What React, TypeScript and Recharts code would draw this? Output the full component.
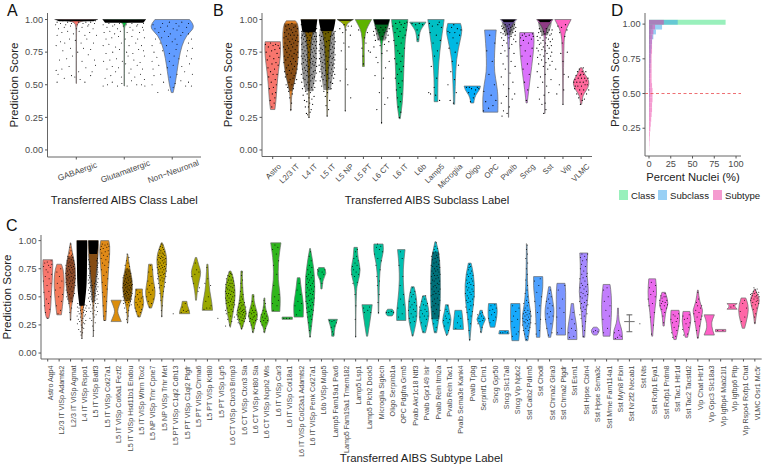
import { ScatterChart, Scatter, XAxis, YAxis, BarChart, Bar, ReferenceLine } from "recharts";

const FONT = '"Liberation Sans", Arial, sans-serif';
const GREY = "#4a4a4a";

// violin lists are flat pairs: score %, half width % of a category
// dot lists are flat pairs: offset % of a category, score %
// clouds are the solid black parts of a jitter, hazes the parts too dense to list dot by dot
const classNames = ["GABAergic", "Glutamatergic", "Non\u2212Neuronal"];
const classColors = ["#F8766D", "#00BA38", "#619CFF"];
const classViolins = [
  [51, 0.4, 90, 0.4, 97, 1, 99, 12, 100, 45],
  [49, 0.4, 90, 0.4, 97, 1, 99, 14, 100, 45],
  [44, 2, 50, 6, 60, 10, 70, 14, 80, 20, 88, 30, 93, 45, 97, 43, 100, 36],
];
const classClouds = [[98.6, 36, 100, 44], [97.6, 40, 100, 45], []];
const classHazes = [[], [], []];
const classDots = [
  [-40,52,-25,55,-10,57,-3,56,8,54,18,52,30,57,-38,58,-30,62,-42,61,-15,64,5,60,20,63,33,60,40,65,-35,69,-20,70,-8,72,12,68,25,73,38,69,-28,76,-12,78,3,75,15,78,30,77,-42,80,-33,83,-24,82,-14,85,-2,84,10,82,22,85,36,82,-40,88,-30,90,-18,91,-6,89,6,91,18,88,28,90,42,88,-37,93,-25,94,-12,95,0,93,12,94,24,95,35,93,-43,96,-33,97,-22,96,-10,97,2,96,14,97,26,96,38,97,-18,98,5,98,30,98,-40,98,-28,99,-12,99,8,99,20,98,40,99],
  [-44,49,-35,50,-25,52,-14,49,-5,51,6,49,15,53,26,50,36,50,43,49,-40,55,-28,57,-18,60,-6,56,10,59,22,56,34,58,42,54,-36,62,-25,64,-12,63,3,66,14,62,27,65,38,62,-43,68,-30,69,-16,70,-4,68,8,72,20,69,33,67,42,72,-38,74,-24,75,-10,77,5,75,18,74,30,77,40,76,-44,80,-32,81,-18,79,-6,82,10,80,24,82,36,80,-38,85,-26,86,-12,87,2,85,16,87,28,85,42,86,-42,90,-30,91,-20,89,-8,91,6,90,18,92,32,90,40,92,-36,94,-24,95,-14,93,-2,95,12,94,26,95,38,94,-44,96,-32,97,-20,96,-10,97,4,96,16,97,28,96,40,97],
  [-30,44,-8,46,2,48,28,49,40,49,-42,50,-18,52,6,51,18,53,34,52,-38,57,-24,58,-4,56,10,58,26,60,42,58,-40,62,-28,65,-10,63,2,65,20,64,36,66,-42,68,-32,71,-6,68,4,72,14,70,30,72,40,70,-38,75,-20,76,-6,74,8,77,32,76,42,78,-42,80,-25,82,-12,80,0,83,10,81,34,82,-35,85,-22,86,-8,87,6,85,18,88,40,85,-28,90,-16,91,-4,89,10,92,22,90,34,89,-36,93,-24,94,-10,95,2,93,14,95,30,94,-40,96,-20,97,-6,98,8,97,20,98,34,97],
];

const subclassNames = ["Astro", "L2/3 IT", "L4 IT", "L5 IT", "L5 NP", "L5 PT", "L6 CT", "L6 IT", "L6b", "Lamp5", "Microglia", "Oligo", "OPC", "Pvalb", "Sncg", "Sst", "Vip", "VLMC"];
const hueStops = ["#F8766D", "#E88526", "#D39200", "#B79F00", "#93AA00", "#5EB300", "#00BA38", "#00BF74", "#00C19F", "#00BFC4", "#00B9E3", "#00ADFA", "#619CFF", "#AE87FF", "#DB72FB", "#F564E3", "#FF61C3", "#FF699C"];
const subclassViolins = [
  [31, 12, 36, 17, 45, 22, 55, 27, 65, 36, 72, 42, 80, 44, 83, 42],
  [30, 1, 40, 3, 47, 10, 55, 25, 65, 38, 80, 44, 90, 45, 97, 38, 99, 25],
  [25, 1, 40, 2, 60, 5, 80, 10, 90, 20, 97, 40, 100, 45],
  [26, 1, 45, 3, 60, 8, 80, 14, 90, 24, 97, 40, 100, 45],
  [30, 0.4, 90, 0.4, 95, 2, 98, 20, 100, 45],
  [64, 5, 70, 5, 80, 4, 90, 10, 95, 25, 100, 45],
  [20, 0.4, 78, 0.6, 85, 8, 90, 20, 96, 38, 100, 45],
  [24, 3, 35, 15, 50, 20, 70, 25, 85, 30, 95, 42, 100, 45],
  [83, 5, 88, 8, 92, 15, 96, 35, 98, 45],
  [37, 10, 50, 10, 60, 12, 75, 20, 90, 35, 100, 45],
  [35, 3, 50, 6, 70, 12, 85, 35, 92, 45, 97, 35],
  [36, 8, 38, 10, 42, 18, 46, 40, 49, 45],
  [29, 41, 40, 43, 50, 35, 60, 22, 70, 22, 80, 25, 92, 32],
  [25, 0.6, 70, 1, 85, 5, 93, 10, 97, 25, 100, 45],
  [36, 3, 45, 10, 64, 28, 82, 42, 90, 38],
  [28, 0.6, 80, 1, 90, 5, 95, 18, 98, 35, 100, 45],
  [35, 0.6, 80, 4, 90, 10, 96, 30, 100, 45],
  [35, 3, 40, 7, 43, 15, 48, 40, 53, 45, 58, 20, 63, 5],
];
const subclassClouds = [[], [], [90, 36, 95, 42, 100, 45], [91, 34, 96, 42, 100, 45], [99, 30, 100, 45], [], [96, 36, 100, 44], [], [], [], [], [], [], [98, 26, 100, 40], [], [98, 26, 100, 42], [], []];
const subclassHazes = [[], [45, 8, 55, 25, 65, 36, 80, 40, 90, 40, 97, 36], [45, 20, 55, 36, 70, 43, 90, 44], [46, 20, 58, 34, 75, 42, 91, 42], [], [], [84, 22, 90, 32, 96, 40], [], [], [], [], [], [], [88, 18, 94, 34, 98, 38], [], [88, 16, 94, 34, 98, 38], [], []];
const subclassDots = [
  [-5,33,8,36,-14,38,12,40,-2,43,16,44,-18,47,4,48,20,50,-8,52,14,54,-22,56,2,58,24,58,-12,60,10,62,-26,63,30,65,-4,66,18,67,-30,69,6,70,34,71,-16,72,24,74,-36,75,-6,76,12,77,38,78,-24,79,2,80,30,80,-40,81,-12,82,16,81],
  [0,31,4,36,-6,40,8,43,-12,45,14,47,-18,48,6,50,-26,50,22,51,-10,52,32,54,-4,54,12,55,-30,56,18,57,-20,58,2,59,28,59,-34,60,-8,61,34,62,10,62,-24,63,20,64,-14,65,4,66,36,66,-38,67,-2,68,26,68,-28,69,14,70,-16,71,40,71,6,72,-36,72,30,73,-8,73,18,74,-22,75,38,75,0,76,-30,77,24,77,-12,78,10,79,-40,79,34,80,-20,80,2,81,16,82,-32,82,40,83,-6,83,26,84,-16,85,8,85,-38,86,32,86,-26,87,-2,88,18,88,38,88,-12,89,10,90,-34,90,28,91,-22,92,2,92,36,93,-8,93,16,94,-28,95,24,95,-14,96,6,97],
  [0,25,-8,27,6,29,-14,28,12,31,-3,33,-20,33,20,35,4,36,-12,37,-25,38,16,39,0,40,-32,42,28,41,-10,43,8,44,-18,45,22,46,-36,47,-4,47,14,48,32,48,-26,49,2,50,-14,50,26,51,-40,52,-6,52,38,53,10,53,-22,54,20,55,-32,55,-2,56,30,56,-12,57,6,57,-42,58,16,58,40,59,-28,59,24,60,-8,60,-18,61,34,61,2,62,-36,62,12,63,-24,63,42,64,-4,64,28,65,-14,65,18,66,-40,66,8,67,36,67,-30,67,-10,68,22,68,-20,69,2,69,40,70,-34,70,14,70,30,71,-6,71,-26,72,24,72,-42,72,-14,73,8,73,38,74,-32,74,18,75,-2,75,32,76,-22,76,-38,77,12,77,-10,78,26,78,42,78,-28,79,4,79,-16,80,36,80,20,81,-40,81,-6,81,-34,82,10,82,28,83,-20,83,42,83,-12,84,2,84,-30,85,22,85,36,85,-42,86,-8,86,14,86,-24,87,30,87,40,87,-36,88,-16,88,6,88,24,89,-28,89,-4,90,38,90,-40,91,16,91,-20,92,32,92,-10,93,42,93,-34,94,10,94,-26,95,26,95,-42,96,36,96,-14,97,4,97],
  [0,26,8,31,-6,34,14,38,-10,41,2,44,-18,45,22,47,8,48,-30,49,-12,50,30,51,18,52,-38,53,-4,53,-22,54,36,55,10,55,-32,56,26,57,-14,57,42,58,2,58,-26,59,16,59,-40,60,34,60,-8,61,24,62,-34,62,-18,63,40,63,6,63,-28,64,30,65,-44,65,14,65,-12,66,38,66,-24,67,22,67,-36,68,2,68,42,69,-16,69,28,70,-42,70,10,71,-30,71,36,71,-6,72,18,72,-20,73,44,73,-38,74,26,74,-12,75,34,75,-44,76,6,76,-26,77,20,77,40,78,-34,78,-8,79,30,79,-18,80,14,80,-42,81,38,81,-28,82,24,82,-4,83,44,83,-36,84,10,84,-20,85,32,85,-12,86,40,86,-30,87,18,87,-42,88,28,88,-8,89,36,89,-24,90,6,90,44,91,-38,92,22,92,-16,93,34,94,-30,95,12,95],
  [0,30,30,40,14,50,-28,53,6,62,-22,76,20,79,-8,82,28,88,-14,90,4,92,16,95,-30,93,-6,96,34,95],
  [28,76,38,75,-8,78,14,82,-26,92,22,90,6,86,-2,72,0,66],
  [0,21,-26,31,18,35,34,40,-12,44,10,55,-36,57,22,63,-20,67,42,68,-30,71,2,74,30,76,-42,79,-8,80,16,81,40,83,-34,84,-18,85,24,86,4,87,-40,88,36,88,-26,89,-10,90,14,90,30,91,-44,91,-16,92,8,92,42,93,-34,93,22,94,-4,94],
  [-2,25,6,29,-8,33,4,37,-12,40,10,43,-18,46,2,48,-6,51,14,53,-24,55,-12,58,8,60,-2,62,20,64,-16,66,6,68,-28,70,14,72,0,74,-10,76,26,78,-20,80,8,82,-32,84,18,86,-6,87,30,88,-26,90,2,91,36,92,-14,93,22,94,-38,95,8,96,-22,97,28,97,0,98,40,98],
  [-32,97,-12,96,8,97,26,96,-4,92,4,88,0,85],
  [-40,44,-30,43,-2,42,20,38,-10,48,4,55,-26,64,-8,72,8,76,-16,82,24,84,-32,90,2,88,30,94,-20,95,10,96,-36,97,18,98],
  [-4,36,-22,38,12,44,-34,50,2,54,-18,60,24,65,-10,68,6,75,-28,78,16,82,-6,86,30,88,-24,90,4,90,38,92,-34,91,18,93,-14,94,-2,96],
  [-10,37,6,40,-20,44,18,46,-32,48,-4,47,28,48,12,43,-16,48,36,47],
  [-38,30,-10,32,14,34,-26,37,30,38,4,42,-36,45,22,50,-8,58,10,68,-20,76,24,82,-4,88],
  [-36,26,-28,30,-8,28,4,33,-40,36,20,39,-12,41,34,43,2,47,-28,50,24,52,-40,56,8,59,-18,62,36,64,-30,66,14,68,-8,72,-42,74,30,74,-20,76,4,78,-34,80,18,81,-10,82,40,83,-26,84,28,85,2,86,-38,86,14,87,-18,88,36,88,-30,89,-6,89,24,90,-42,90,8,91,-22,91,38,91,-14,92,18,92,-34,93,30,93,0,93,-26,94,12,94,40,94,-38,95,-8,95,22,95,-18,96,32,96,4,96],
  [-2,38,6,46,-12,52,14,58,-20,62,4,66,-26,72,20,72,-8,76,30,78,-32,80,10,82,-18,84,26,85,-34,86,-4,87,36,87,-24,88,14,88,-12,89,32,89],
  [-6,28,6,31,2,36,-16,35,-30,39,-4,42,22,44,-38,48,10,49,-12,52,34,54,-24,56,2,58,-42,60,16,62,-8,64,28,65,-34,66,6,67,40,68,-18,69,20,70,-40,71,-6,72,32,72,-26,73,12,74,38,75,-36,76,2,76,-16,77,24,78,-44,78,-8,79,36,80,14,80,-30,81,-22,82,4,82,30,83,-38,84,-10,84,20,85,42,85,-26,86,8,86,-42,87,-16,88,28,88,0,89,36,89,-34,90,14,90,-22,91,-6,91,24,92,40,92,-30,93,8,93],
  [0,35,-34,43,4,46,-20,50,6,58,30,56,-40,62,0,68,-12,74,24,75,-4,82,10,87,-18,90,22,92,-8,94,-28,95,14,96],
  [-4,35,6,38,-14,40,18,39,-24,43,2,43,30,43,-36,47,-8,46,14,46,42,46,-32,49,-18,49,2,49,22,50,34,50,-40,52,-24,52,-6,52,12,52,28,53,-34,54,-16,55,2,55,20,55,38,55,-28,57,-6,57,14,58,-20,60,6,60,26,60,-10,62,12,63,-2,58],
];
const subtypeNames = ["Astro Aqp4", "L2/3 IT VISp Adamts2", "L2/3 IT VISp Agmat", "L4 IT VISp Rspo1", "L5 IT VISp Batf3", "L5 IT VISp Col27a1", "L5 IT VISp Col6a1 Fezf2", "L5 IT VISp Hsd11b1 Endou", "L5 IT VISp Whrn Tox2", "L5 NP VISp Trhr Cpne7", "L5 NP VISp Trhr Met", "L5 PT VISp C1ql2 Cdh13", "L5 PT VISp C1ql2 Ptgfr", "L5 PT VISp Chrna6", "L5 PT VISp Krt80", "L5 PT VISp Lgr5", "L6 CT VISp Ctxn3 Brinp3", "L6 CT VISp Ctxn3 Sla", "L6 CT VISp Krt80 Sla", "L6 CT VISp Nxph2 Wls", "L6 IT VISp Car3", "L6 IT VISp Col18a1", "L6 IT VISp Col23a1 Adamts2", "L6 IT VISp Penk Col27a1", "L6b VISp Mup5", "Lamp5 Fam19a1 Pax6", "Lamp5 Fam19a1 Tmem182", "Lamp5 Lsp1", "Lamp5 Plch2 Dock5", "Microglia Siglech", "Oligo Serpinb1a", "OPC Pdgfra Grm5", "Pvalb Akr1c18 Ntf3", "Pvalb Gpr149 Islr", "Pvalb Reln Itm2a", "Pvalb Reln Tac1", "Pvalb Sema3e Kank4", "Pvalb Tpbg", "Serpinf1 Clrn1", "Sncg Gpr50", "Sncg Slc17a8", "Sncg Vip Nptx2", "Sst Calb2 Pdlim5", "Sst Chodl", "Sst Chrna2 Glra3", "Sst Chrna2 Ptgdr", "Sst Esm1", "Sst Hpse Cbln4", "Sst Hpse Sema3c", "Sst Mme Fam114a1", "Sst Myh8 Fibin", "Sst Nr2f2 Necab1", "Sst Nts", "Sst Rxfp1 Eya1", "Sst Rxfp1 Prdm8", "Sst Tac1 Htr1d", "Sst Tac2 Tacstd2", "Vip Chat Htr1f", "Vip Gpc3 Slc18a3", "Vip Igfbp4 Mab21l1", "Vip Igfbp6 Pltp", "Vip Rspo4 Rxfp1 Chat", "VLMC Osr1 Mc5r"];
const subtypeViolins = [
  [31, 10, 36, 25, 50, 30, 65, 40, 78, 45, 83, 42],
  [34, 20, 42, 30, 55, 42, 65, 45, 75, 35, 79, 20],
  [29, 2, 40, 5, 47, 20, 60, 40, 75, 45, 85, 25, 93, 10, 98, 2],
  [13, 1, 30, 6, 50, 20, 70, 35, 90, 45, 100, 45],
  [15, 1, 40, 3, 55, 10, 70, 25, 85, 40, 95, 45, 100, 42],
  [29, 10, 50, 20, 70, 30, 85, 42, 95, 45, 100, 35],
  [28, 45, 33, 25, 37, 10, 42, 25, 47, 45],
  [27, 2, 38, 5, 48, 30, 55, 42, 65, 42, 75, 20, 88, 2],
  [32, 10, 38, 30, 45, 45, 52, 30, 57, 30],
  [40, 10, 47, 35, 55, 45, 65, 25, 75, 20, 79, 15],
  [32, 1, 45, 5, 60, 20, 75, 40, 85, 45, 93, 25, 98, 5],
  [],
  [35, 45, 38, 42, 42, 25, 46, 20],
  [47, 4, 55, 10, 65, 30, 72, 45, 78, 25, 85, 6],
  [38, 45, 45, 40, 55, 20, 65, 12, 79, 5],
  [],
  [23, 2, 35, 25, 50, 45, 60, 40, 70, 20, 73, 5],
  [21, 2, 30, 30, 36, 45, 45, 20, 60, 8, 73, 6],
  [18, 3, 25, 15, 33, 45, 40, 25, 47, 8, 52, 8],
  [18, 3, 23, 10, 29, 45, 36, 20, 42, 6, 49, 4],
  [37, 35, 45, 40, 55, 35, 65, 20, 80, 22, 90, 33, 98, 45],
  [30, 45, 32, 45],
  [32, 40, 43, 45, 55, 25, 67, 12],
  [14, 2, 33, 25, 55, 45, 75, 35, 93, 3],
  [57, 5, 65, 10, 71, 45, 76, 25],
  [15, 10, 20, 12, 25, 25, 30, 40],
  [],
  [14, 1, 55, 3, 63, 20, 74, 45, 84, 20, 94, 15],
  [15, 5, 31, 30, 43, 45],
  [35, 2, 63, 6, 81, 20, 90, 45, 97, 40],
  [33, 20, 36, 45, 39, 20],
  [29, 40, 37, 42, 55, 20, 75, 15, 92, 33],
  [15, 3, 28, 35, 40, 40, 52, 30, 59, 12],
  [18, 12, 31, 45, 40, 40, 51, 12],
  [18, 10, 34, 40, 63, 45, 87, 35, 99, 5],
  [16, 5, 28, 45, 37, 20, 43, 12],
  [21, 45, 28, 42, 38, 30],
  [11, 2, 34, 20, 52, 45, 70, 35, 80, 12],
  [18, 3, 25, 10, 30, 45, 34, 15, 38, 10],
  [23, 20, 34, 45, 44, 35],
  [17, 45, 20, 40],
  [11, 30, 28, 45, 44, 40],
  [11, 10, 31, 45, 43, 20, 63, 5, 96, 3],
  [14, 15, 37, 22, 49, 30, 59, 42, 68, 40],
  [14, 10, 34, 45, 46, 30, 59, 8],
  [16, 40, 40, 40, 55, 42, 62, 35],
  [12, 40, 22, 42, 34, 20, 44, 10],
  [14, 8, 37, 20, 55, 45, 70, 25, 89, 35],
  [16, 15, 20, 45, 23, 15],
  [15, 30, 34, 45, 52, 42, 61, 30],
  [12, 40, 20, 40, 28, 6, 40, 4],
  [19, 25, 19, 0, 28, 0, 28, 45, 28, 0, 34, 0, 34, 25],
  [],
  [15, 4, 37, 20, 53, 42, 66, 30],
  [24, 5, 37, 15, 44, 45, 54, 15],
  [12, 10, 28, 45, 38, 35],
  [14, 10, 28, 45, 37, 30],
  [13, 3, 34, 35, 38, 45, 46, 15, 56, 3],
  [16, 45, 25, 10, 34, 45],
  [19, 45, 21, 45],
  [39, 45, 42, 15, 44, 45],
  [22, 10, 34, 42, 43, 42, 49, 20],
  [26, 3, 37, 15, 47, 45, 53, 20, 57, 3],
];
const subtypeClouds: number[][] = subtypeNames.map(() => []);
subtypeClouds[3] = [42, 22, 55, 38, 70, 44, 100, 45];
subtypeClouds[4] = [88, 36, 94, 42, 100, 44];
const subtypeHazes: number[][] = subtypeNames.map(() => []);
subtypeHazes[2] = [45, 15, 60, 38, 75, 42, 86, 24];
subtypeHazes[4] = [45, 14, 60, 30, 75, 40, 88, 42];
subtypeHazes[7] = [46, 26, 55, 40, 65, 40, 75, 18];
subtypeHazes[34] = [30, 34, 50, 38, 70, 40, 90, 30];
const subtypeDots = [
  [0,31,-20,36,18,39,-30,42,6,44,-12,48,24,50,-34,54,10,55,-6,60,28,62,-38,64,12,66,-22,68,34,70,2,72,-14,74,22,76,-36,77,8,78,36,79,-26,80,-4,81,30,82],
  [-10,35,12,38,-24,42,20,46,-4,50,30,52,-32,56,8,58,-16,62,24,64,2,68,-20,72,14,75],
  [0,30,-6,36,10,40,-14,44,18,46,-24,48,4,49,-34,50,26,51,-10,52,36,53,-28,54,14,55,-38,56,-4,57,30,58,-18,59,8,59,40,60,-32,61,20,62,-8,62,-40,63,34,63,2,64,-24,65,16,65,-36,66,42,66,-12,67,26,67,6,68,-30,69,38,69,-18,70,12,71,-42,71,30,72,0,72,-26,73,20,74,-8,74,36,75,-34,75,10,76,-16,77,26,77,-40,78,2,78,34,79,-22,80,14,80,-6,81,-30,82,28,82,6,83,-14,84,20,85,-24,86,8,87,16,88,-10,89,4,91,-6,94,2,97],
  [0,13,-8,16,6,18,-14,19,-28,21,16,22,2,23,-6,25,-40,26,24,26,12,27,-20,28,34,29,-2,29,-32,30,8,31,-14,32,20,33,-42,33,30,34,-24,35,-4,35,12,36,40,37,-34,37,-12,38,24,38,2,39,-26,40,-40,41,34,40,14,41,-6,42,42,42,-18,43,26,43,-36,44,6,44],
  [-2,15,4,20,-6,24,16,27,-14,29,-30,31,8,32,24,34,-4,35,-22,37,36,37,12,38,-38,40,-10,40,28,41,2,42,-26,43,20,44,40,44,-34,46,-6,46,14,47,-18,48,32,48,-42,49,6,50,-28,50,24,51,-12,52,42,52,-36,53,16,53,-2,54,34,55,-24,55,8,56,-42,56,28,57,-14,58,-32,58,18,59,40,59,-6,60,-22,60,30,61,-40,62,10,62,-30,63,38,63,-16,64,22,64,-44,65,42,66,-34,67,30,68,-40,69,36,70,-30,71,40,72,-26,73,32,74,-42,75,38,76,-28,77,34,78,-38,79,42,80,-32,81,28,82,-42,83,36,84],
  [0,29,-8,33,10,37,-14,42,16,46,-4,50,-18,54,20,57,6,60,-22,63,26,66,-8,69,14,72,-28,74,30,76,0,78,-20,80,34,81,10,83,-32,84,22,86,-10,87,38,88,-26,89,4,90,30,91,-38,92,-14,93,18,94,-30,95,36,95,2,96,-22,97,26,97],
  [],
  [0,27,-8,30,6,33,-12,36,10,38,-26,40,18,42,-4,43,32,43,-34,44,-16,45,8,45,26,46,-38,47,-6,47,14,48,36,48,-24,49,2,49,-40,50,22,50,-12,51,34,51,-30,52,10,52,-20,53,40,53,0,54,28,54,-36,55,-10,55,16,56,-26,56,38,57,4,57,-16,58,26,58,-42,58,-4,59,34,60,-30,60,14,60,-20,61,42,61,4,62,-36,62,24,63,-10,63,-26,64,36,64,10,65,-18,66,30,66,-40,67,2,67,20,68,-30,69,-8,70,28,71,-16,72,12,73,-4,75,16,77,-22,78,4,80,-8,82,12,85,-4,88],
  [-6,33,12,36,-24,37,22,39,-34,40,2,41,-14,43,30,43,-26,45,10,46,-4,48,20,49,-30,50,34,50,-12,52,8,54,-20,56],
  [-6,41,10,44,-18,46,26,48,-32,50,4,52,-12,54,20,56,-28,57,36,58,-6,60,14,62,-22,64,6,68,-14,72,18,74,0,78],
  [0,33,-4,38,4,42,-8,47,8,50,-16,53,14,55,-22,58,24,59,-6,60,-30,62,32,63,10,64,-14,65,-38,66,20,66,2,67,-26,68,36,68,-8,69,14,70,-34,71,26,71,-18,72,4,72,40,73,-28,74,18,74,-8,75,32,75,-40,76,8,76,-20,77,24,77,0,78,-32,79,38,79,14,80,-14,80,-26,81,28,81,4,82,-38,83,20,83,-10,84,34,84,-24,85,10,85,-4,86,26,87,-30,87,14,88,-16,89,4,89,24,90,-8,91,16,92,-20,92,6,94,-12,95,10,96,-2,97],
  [0,35],
  [-30,36,-10,38,14,37,30,38,-20,41,6,44],
  [18,55,-36,68,-10,70,26,72,6,74,-20,62,30,58,-6,80],
  [-30,39,-6,40,22,40,32,42,-14,46,8,50,28,60,-22,62,4,66,-4,76],
  [-8,31],
  [-40,24,-4,25,14,28,-22,30,36,32,4,33,-34,35,-12,36,22,37,-42,38,8,39,-26,40,30,41,-6,42,40,43,16,43,-36,44,-18,45,26,45,2,46,-30,47,36,47,12,48,-42,49,-10,49,22,50,-24,51,40,51,4,52,-34,53,-14,53,30,54,14,55,-40,55,-4,56,38,56,-22,57,22,58,-32,58,6,59,-12,60,34,60,-38,61,16,62,-2,62,-26,63,28,64,-14,65,8,65,-34,66,22,67,-6,68,-20,69,14,70,2,71,-10,72],
  [-2,22,10,24,-14,26,-30,27,22,28,4,29,-38,30,-18,30,14,31,34,31,-6,32,-28,33,24,33,6,34,-42,34,-14,35,38,35,16,36,-24,36,-4,37,30,37,-34,38,8,38,-16,39,20,39,-8,40,-26,41,36,41,2,42,14,43,-18,44,-6,45,24,45,-14,47,8,48,-4,50,12,52,-10,55,4,58,-6,62,8,65,-2,69,4,72],
  [-4,19,10,22,-16,25,6,27,-30,28,22,29,-8,30,36,30,-22,31,2,32,-38,33,14,33,30,34,-12,35,-28,36,8,36,-4,38,20,38,-14,40,4,42,-6,46,6,50],
  [-4,19,10,22,-20,25,14,27,-34,28,-6,29,28,29,6,31,-16,32,20,33,-28,34,0,35,14,37,-12,38,-4,41,8,44,-4,47],
  [-24,38,10,42,-30,44,22,47,-10,50,28,52,-18,60,8,70,-20,78,24,82,4,88,-28,92,18,94,-8,96],
  [-30,31,-6,31,20,31],
  [-20,34,10,38,-32,42,26,44,-6,46,14,52,-14,56,4,62],
  [0,15,-6,20,8,24,-12,27,14,30,-20,32,2,33,22,34,-26,36,-8,37,28,38,12,39,-30,40,-16,41,4,42,32,43,-24,44,20,45,-36,46,-6,47,10,48,36,49,-28,50,-14,51,22,52,2,53,-34,54,30,55,-8,56,14,57,-22,58,38,59,4,60,-30,61,20,62,-14,63,30,64,-4,65,-24,66,10,67,-32,68,24,69,-12,70,4,72,-20,74,16,76,-6,78,10,82,-8,86,4,90],
  [-24,73,6,72,20,70,-10,66,4,62,-34,74,30,74],
  [-28,29,-8,28,10,29,30,27,-14,23,12,24,-4,19,6,17],
  [],
  [0,15,-4,30,2,42,-6,52,-24,62,14,63,-34,70,-10,68,26,70,4,72,-18,74,34,75,-28,77,12,78,-6,80,22,82,-16,84,8,86,-2,90,14,92],
  [-24,36,6,38,-30,40,22,41,32,36],
  [0,36,-4,45,6,52,-10,60,8,64,-14,68,14,74,-22,78,24,82,-6,84,-34,88,34,90,8,92,-18,94,20,95,-8,97],
  [-30,36,-10,36,12,37,30,36],
  [-24,32,8,35,-30,40,20,43,-6,48,18,52,-10,60,14,68,-20,78,8,84,-8,90],
  [-4,16,-20,27,14,28,-30,31,4,32,30,33,-14,35,22,37,-36,38,6,39,-22,41,32,42,-6,43,14,45,-30,46,26,48,-10,50,4,52,-18,54,18,55,0,58],
  [-8,19,12,24,-24,27,20,30,-36,32,2,33,34,33,-14,35,24,37,-28,38,8,39,-40,41,16,42,-6,43,30,44,-20,46,6,48,-10,50,14,51],
  [-4,19,6,23,-16,26,14,29,-30,31,28,33,-6,35,-22,37,40,38,10,39,-36,41,-14,42,24,43,2,44,-28,46,38,47,-8,48,16,49,-38,51,-22,52,32,52,4,53,-12,55,24,55,-32,57,40,57,10,58,-20,59,-4,60,30,61,-40,62,16,62,-12,64,36,64,-26,65,4,66,24,67,-36,68,-8,69,14,69,40,70,-18,71,30,72,-32,73,2,73,20,74,-8,75,38,76,-24,77,12,77,-38,78,28,79,-14,80,6,81,36,82,-28,83,-4,84,20,85,-36,86,10,87,30,88,-20,89,2,90,-12,92,16,93,-4,95,6,98],
  [-4,16,14,20,-20,24,10,27,-30,29,24,30,-6,31,-14,33,16,35,2,37,-8,39,6,42],
  [-22,22,18,24,-8,27,22,31,2,33],
  [0,12,-6,20,6,26,-14,30,12,33,-24,36,22,37,-4,39,-34,41,10,42,32,43,-16,45,4,46,-30,47,24,48,-10,49,38,50,-22,51,12,52,-38,53,2,54,30,55,-18,56,20,57,-8,58,-30,59,34,60,10,61,-20,62,-4,63,26,64,-26,65,14,66,-10,68,28,69,-22,70,4,71,16,73,-12,74,-6,76,8,77,-2,79],
  [-4,19,8,23,-28,26,-10,28,14,29,-20,31,22,31,4,33,-30,34,-8,35,10,36],
  [-22,27,6,29,-34,31,28,32,-8,34,16,36,-24,38,2,39,32,40,-14,42,20,43],
  [-30,18,-10,18,10,19,30,18],
  [-26,15,8,17,26,19,-10,23,-30,28,20,30,-16,33,4,37,32,40,-24,42],
  [-4,12,8,15,-18,17,14,20,-30,20,-8,22,28,23,4,24,-38,25,18,26,-14,27,36,27,-24,28,6,29,-6,30,26,30,-34,31,14,32,-16,33,38,33,2,34,-28,35,22,35,-8,36,32,37,-20,38,10,38,-14,40,4,42,-26,44,16,45,-2,47,8,50,-14,53,2,56,6,60,-8,65,4,70,-4,75,8,80,-8,84,6,88,-2,92,4,96,-4,97],
  [-18,17,10,20,-26,26,22,30,-6,36,14,42,-30,46,28,50,-12,54,6,60,-32,64,18,66],
  [-10,16,22,18,-24,22,12,26,-34,30,-4,32,30,33,-20,35,8,37,-14,40,24,42,2,44,-28,46,-8,48,14,50,-2,53,6,56],
  [-30,18,6,22,-36,32,26,36,-10,40,14,48,-24,56,34,60],
  [-24,14,12,15,-32,18,28,20,-8,22,18,26,-4,30,6,36],
  [-4,15,6,20,-12,24,16,28,-24,31,4,33,-34,34,28,35,-14,37,12,39,-28,40,-4,41,22,42,36,43,-20,44,6,45,-36,46,26,47,-14,49,-30,50,12,51,34,52,-6,53,-24,54,24,55,2,57,-32,58,18,59,-10,60,34,61,-22,62,10,64,-34,66,-6,67,24,68,-18,70,30,71,0,73,-30,75,14,77,-20,79,-10,82,24,83,-30,85,8,86,-16,88,32,88],
  [-14,19,4,20,24,19],
  [-26,18,8,22,-32,30,24,33,-6,38,30,42,-20,46,14,50,-26,56,4,58],
  [-24,13,-4,14,16,16,-30,18,6,20,28,15],
  [],
  [-8,26],
  [-6,17,10,25,-16,32,18,36,-28,42,2,44,-36,48,26,50,-12,52,10,55,-24,58,30,60,-8,63],
  [0,27,-6,33,10,36,-16,39,24,40,-30,42,6,42,34,43,-20,44,14,45,-8,46,28,47,-34,47,-14,49,4,50,20,50,-24,51,12,53],
  [-20,14,6,15,-30,18,16,20,-8,23,32,24,-22,27,10,28,-36,30,22,31,0,33,-16,34,30,35],
  [-24,16,10,17,-32,21,20,23,-4,26,30,27,-18,30,8,31,-30,33,24,34],
  [0,14,-10,20,14,24,-26,28,26,30,-6,32,36,33,-34,35,10,36,-18,38,24,40,-2,42,34,42,-12,45,6,48,0,54],
  [],
  [-26,20,20,20],
  [-10,41,14,42],
  [-16,28,12,32,-28,37,26,40,-6,44,10,47],
  [0,27,-4,32,8,35,-14,39,18,40,-26,42,4,43,34,44,-18,45,12,46,-36,47,26,47,-8,48,20,49,-30,49,2,50,38,50,-20,51,14,51,-38,52,28,52,-6,53,-26,53,12,54,34,54,-14,55,4,56,20,57,-8,58],
];

const binScores = [1.013, 0.978, 0.943, 0.908, 0.873, 0.838, 0.803, 0.768, 0.733, 0.698, 0.663, 0.628, 0.593, 0.558, 0.523, 0.488, 0.453, 0.418, 0.383, 0.348, 0.313, 0.278, 0.243, 0.208, 0.173, 0.138, 0.103];
const classPct = [88, 4, 2, 1.5, 1, 0.8, 0.5, 0.5, 0.4, 0.4, 0.3, 0.3, 0.3, 0.3, 0.3, 0.2, 0, 0, 0, 0, 0, 0, 0, 0, 0, 0, 0];
const subclassPct = [33, 15, 8, 5, 3.5, 3, 2.5, 2, 2, 1.5, 1.5, 1, 1, 1, 1, 0.8, 0.6, 0.5, 0.4, 0.3, 0.2, 0.1, 0, 0, 0, 0, 0];
const subtypePct = [17, 7, 5, 4, 3.5, 3.5, 3.5, 3, 3, 3, 3, 3, 3, 3.5, 4, 4, 4, 3.5, 3.5, 3, 2.5, 2, 1.5, 1, 0.7, 0.4, 0.2];
const nucleiBins = binScores.map((bin, i) => ({ bin, cls: classPct[i], sub: subclassPct[i], type: subtypePct[i] }));

const scoreTicks = [0, 0.25, 0.5, 0.75, 1];

const hex = (c: string) => [1, 3, 5].map((i) => parseInt(c.slice(i, i + 2), 16));
// the subtype hues run along the same wheel as the subclass hues
function wheelColor(i: number, n: number) {
  const t = (i / (n - 1)) * (hueStops.length - 1);
  const lo = Math.floor(t);
  const hi = Math.min(lo + 1, hueStops.length - 1);
  const a = hex(hueStops[lo]);
  const b = hex(hueStops[hi]);
  return `rgb(${a.map((v, k) => Math.round(v + (b[k] - v) * (t - lo))).join(",")})`;
}
const subtypeColors = subtypeNames.map((_, i) => wheelColor(i, subtypeNames.length));

function outline(center: number, profile: number[]) {
  const right = [];
  const left = [];
  for (let i = 0; i < profile.length; i += 2) {
    right.push({ x: center + profile[i + 1] / 100, y: profile[i] / 100 });
    left.unshift({ x: center - profile[i + 1] / 100, y: profile[i] / 100 });
  }
  return [...right, ...left];
}

function sidePath(pts: any[]) {
  let d = `L${pts[0].x},${pts[0].y}`;
  for (let i = 1; i < pts.length - 1; i++) {
    const mx = (pts[i].x + pts[i + 1].x) / 2;
    const my = (pts[i].y + pts[i + 1].y) / 2;
    d += `Q${pts[i].x},${pts[i].y} ${mx},${my}`;
  }
  return d + `L${pts[pts.length - 1].x},${pts[pts.length - 1].y}`;
}

// Scatter hands its scaled points to the line renderer, the violin is filled from them
function violinShape(fill: string, stroke: string, strokeWidth: number, smooth: boolean, opacity = 1) {
  return (props: any) => {
    const pts = props.points;
    const half = pts.length / 2;
    const d = smooth
      ? `M${pts[0].x},${pts[0].y}` + sidePath(pts.slice(0, half)) + sidePath(pts.slice(half)) + "Z"
      : "M" + pts.map((p: any) => `${p.x},${p.y}`).join("L") + "Z";
    return <path d={d} fill={fill} fillOpacity={opacity} stroke={stroke} strokeWidth={strokeWidth} />;
  };
}

const noSymbol = () => null;
const dotShape = (r: number) => (p: any) => <circle cx={p.cx} cy={p.cy} r={r} fill="#000" />;

function dotsOf(lists: number[][]) {
  const out: { x: number; y: number }[] = [];
  lists.forEach((list, c) => {
    for (let i = 0; i < list.length; i += 2) out.push({ x: c + 1 + list[i] / 100, y: list[i + 1] / 100 });
  });
  return out;
}

function ViolinPanel({ x, y, w, h, names, colors, violins, clouds, hazes, dots, domain, yDomain, angle, anchor, tickSize, tickDy, tickDx, title, titleDx, yTitleOffset, titleOffset, dotR, titleSize }: any) {
  const bottom = 465 - y - h;
  return (
    <div style={{ position: "absolute", left: 0, top: 0, pointerEvents: "none" }}>
      <ScatterChart width={764} height={465} margin={{ top: y, right: 764 - x - w, bottom: 0, left: 0 }}>
        <XAxis
          type="number"
          dataKey="x"
          domain={domain}
          allowDataOverflow
          ticks={names.map((_: string, i: number) => i + 1)}
          interval={0}
          height={bottom}
          tickFormatter={(v: number) => names[v - 1]}
          tick={{ fontSize: tickSize, fill: GREY, fontFamily: FONT, dy: tickDy, dx: tickDx }}
          angle={angle}
          textAnchor={anchor}
          tickLine={{ stroke: "#555" }}
          tickSize={2.5}
          axisLine={{ stroke: "#666", strokeWidth: 1 }}
          label={{ value: title, position: "insideBottom", offset: titleOffset, dx: titleDx, fontSize: titleSize, fill: "#222", fontFamily: FONT }}
        />
        <YAxis
          type="number"
          dataKey="y"
          domain={yDomain}
          allowDataOverflow
          ticks={scoreTicks}
          width={x}
          tickFormatter={(v: number) => v.toFixed(2)}
          tick={{ fontSize: 9.2, fill: GREY, fontFamily: FONT }}
          tickLine={{ stroke: "#555" }}
          tickSize={2.5}
          axisLine={{ stroke: "#666", strokeWidth: 1 }}
          label={{ value: "Prediction Score", angle: -90, position: "insideLeft", offset: yTitleOffset, textAnchor: "middle", fontSize: 11.6, fill: "#222", fontFamily: FONT }}
        />
        {violins.map((profile: number[], c: number) =>
          profile.length === 0 ? null : (
            <Scatter
              key={names[c]}
              data={outline(c + 1, profile)}
              isAnimationActive={false}
              shape={noSymbol}
              line={violinShape(colors[c], "#6b6b6b", 0.7, !profile.includes(0))}
              lineType="joint"
            />
          )
        )}
        {hazes.map((profile: number[], c: number) =>
          profile.length === 0 ? null : (
            <Scatter
              key={names[c] + " haze"}
              data={outline(c + 1, profile)}
              isAnimationActive={false}
              shape={noSymbol}
              line={violinShape("#000", "none", 0, true, 0.42)}
              lineType="joint"
            />
          )
        )}
        {clouds.map((profile: number[], c: number) =>
          profile.length === 0 ? null : (
            <Scatter
              key={names[c] + " cloud"}
              data={outline(c + 1, profile)}
              isAnimationActive={false}
              shape={noSymbol}
              line={violinShape("#000", "none", 0, true)}
              lineType="joint"
            />
          )
        )}
        <Scatter data={dotsOf(dots)} isAnimationActive={false} shape={dotShape(dotR)} />
      </ScatterChart>
    </div>
  );
}

function PanelLetter({ text, x, y, size }: { text: string; x: number; y: number; size: number }) {
  return <div style={{ position: "absolute", left: x, top: y, fontSize: size, lineHeight: 1, color: "#111" }}>{text}</div>;
}

function LegendKey({ x, color, label }: { x: number; color: string; label: string }) {
  return (
    <>
      <div style={{ position: "absolute", left: x, top: 190, width: 8.5, height: 9.5, background: color }} />
      <div style={{ position: "absolute", left: x + 12, top: 189.5, fontSize: 9.6, lineHeight: "11px", color: "#222" }}>{label}</div>
    </>
  );
}

export default function App() {
  return (
    <div style={{ position: "absolute", left: 0, top: 0, width: 764, height: 465, background: "#fff", fontFamily: FONT, overflow: "hidden" }}>
      <PanelLetter text="A" x={7} y={3} size={16} />
      <PanelLetter text="B" x={213} y={3} size={16} />
      <PanelLetter text="C" x={6} y={218} size={16} />
      <PanelLetter text="D" x={611} y={2} size={17} />
      <ViolinPanel x={47.5} y={13} w={153.5} h={144} names={classNames} colors={classColors} violins={classViolins} clouds={classClouds} hazes={classHazes} dots={classDots} domain={[0.4, 3.6]} yDomain={[-0.054, 1.05]} angle={-20} anchor="middle" tickSize={8.3} tickDy={7} tickDx={0} title="Transferred AIBS Class Label" titleDx={0} titleOffset={261} yTitleOffset={14} dotR={0.52} titleSize={11.2} />
      <ViolinPanel x={262} y={13} w={330} h={143.5} names={subclassNames} colors={hueStops} violins={subclassViolins} clouds={subclassClouds} hazes={subclassHazes} dots={subclassDots} domain={[0.41, 18.6]} yDomain={[-0.05, 1.05]} angle={-45} anchor="end" tickSize={7.8} tickDy={2} tickDx={5} title="Transferred AIBS Subclass Label" titleDx={0} titleOffset={261} yTitleOffset={228} dotR={0.62} titleSize={11.2} />
      <ViolinPanel x={41} y={235} w={720.7} h={124} names={subtypeNames} colors={subtypeColors} violins={subtypeViolins} clouds={subtypeClouds} hazes={subtypeHazes} dots={subtypeDots} domain={[0.41, 63.6]} yDomain={[-0.053, 1.05]} angle={-90} anchor="end" tickSize={7.1} tickDy={2} tickDx={0} title="Transferred AIBS Subtype Label" titleDx={20} titleOffset={3} yTitleOffset={7} dotR={0.5} titleSize={11.4} />
      <div style={{ position: "absolute", left: 0, top: 0, pointerEvents: "none" }}>
        <BarChart width={764} height={465} data={nucleiBins} layout="vertical" barSize={4.8} barGap={-4.8} margin={{ top: 13, right: 23, bottom: 0, left: 0 }}>
          <XAxis
            type="number"
            domain={[-4.6, 105.7]}
            allowDataOverflow
            ticks={[0, 25, 50, 75, 100]}
            height={309}
            tick={{ fontSize: 9.2, fill: GREY, fontFamily: FONT }}
            tickLine={{ stroke: "#555" }}
            tickSize={2.5}
            axisLine={{ stroke: "#666", strokeWidth: 1 }}
            label={{ value: "Percent Nuclei (%)", position: "insideBottom", offset: 284, fontSize: 11.2, fill: "#222", fontFamily: FONT }}
          />
          <YAxis
            type="number"
            dataKey="bin"
            reversed
            domain={[0.05, 1.08]}
            allowDataOverflow
            ticks={[0.25, 0.5, 0.75, 1]}
            width={645}
            tickFormatter={(v: number) => v.toFixed(2)}
            tick={{ fontSize: 9.2, fill: GREY, fontFamily: FONT }}
            tickLine={{ stroke: "#555" }}
            tickSize={2.5}
            axisLine={{ stroke: "#666", strokeWidth: 1 }}
            label={{ value: "Prediction Score", angle: -90, position: "insideLeft", offset: 615, textAnchor: "middle", fontSize: 11.6, fill: "#222", fontFamily: FONT }}
          />
          <Bar dataKey="cls" fill="#33E179" fillOpacity={0.5} isAnimationActive={false} />
          <Bar dataKey="sub" fill="#33A1EB" fillOpacity={0.5} isAnimationActive={false} />
          <Bar dataKey="type" fill="#EB37A1" fillOpacity={0.5} isAnimationActive={false} />
          <ReferenceLine y={0.5} stroke="#E8474C" strokeWidth={0.8} strokeDasharray="3 2.5" />
        </BarChart>
      </div>
      <LegendKey x={619} color="#99F0BC" label="Class" />
      <LegendKey x={658} color="#99D0F5" label="Subclass" />
      <LegendKey x={713} color="#F59BD0" label="Subtype" />
    </div>
  );
}
